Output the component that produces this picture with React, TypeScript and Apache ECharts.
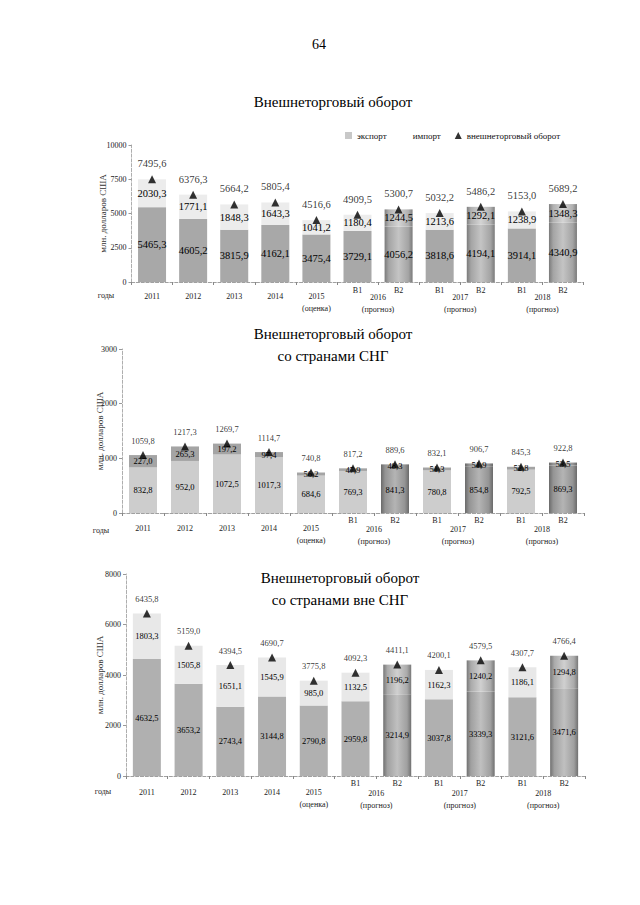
import React, { useEffect, useRef } from "react";
import * as echarts from "echarts";

const categories = ["2011", "2012", "2013", "2014", "2015", "2016 B1", "2016 B2", "2017 B1", "2017 B2", "2018 B1", "2018 B2"];
const yearLabels = ["2011", "2012", "2013", "2014", "2015\n(оценка)", "", "", "", "", "", ""];
const variantLabels = ["", "", "", "", "", "B1", "B2", "B1", "B2", "B1", "B2"];
const forecastPositions = [5.5, 7.5, 9.5];
const forecastYears = ["2016", "2017", "2018"];
const variantB2 = [false, false, false, false, false, false, true, false, true, false, true];

// Chart 1: total
const exportTotal = [5465.3, 4605.2, 3815.9, 4162.1, 3475.4, 3729.1, 4056.2, 3818.6, 4194.1, 3914.1, 4340.9];
const importTotal = [2030.3, 1771.1, 1848.3, 1643.3, 1041.2, 1180.4, 1244.5, 1213.6, 1292.1, 1238.9, 1348.3];
const turnoverTotal = [7495.6, 6376.3, 5664.2, 5805.4, 4516.6, 4909.5, 5300.7, 5032.2, 5486.2, 5153.0, 5689.2];

// Chart 2: CIS
const exportCIS = [832.8, 952.0, 1072.5, 1017.3, 684.6, 769.3, 841.3, 780.8, 854.8, 792.5, 869.3];
const importCIS = [227.0, 265.3, 197.2, 97.4, 56.2, 47.9, 48.3, 51.3, 51.9, 52.8, 53.5];
const turnoverCIS = [1059.8, 1217.3, 1269.7, 1114.7, 740.8, 817.2, 889.6, 832.1, 906.7, 845.3, 922.8];

// Chart 3: non-CIS
const exportNonCIS = [4632.5, 3653.2, 2743.4, 3144.8, 2790.8, 2959.8, 3214.9, 3037.8, 3339.3, 3121.6, 3471.6];
const importNonCIS = [1803.3, 1505.8, 1651.1, 1545.9, 985.0, 1132.5, 1196.2, 1162.3, 1240.2, 1186.1, 1294.8];
const turnoverNonCIS = [6435.8, 5159.0, 4394.5, 4690.7, 3775.8, 4092.3, 4411.1, 4200.1, 4579.5, 4307.7, 4766.4];

const yMaxes = [10000, 3000, 8000];
const yIntervals = [2500, 1000, 2000];

const SERIF = "'Liberation Serif', 'DejaVu Serif', serif";
const fmt = (v: number) => v.toFixed(1).replace(".", ",");

const grad = (edge: string, mid: string, center: string) => ({
  type: "linear", x: 0, y: 0, x2: 1, y2: 0,
  colorStops: [
    { offset: 0, color: edge },
    { offset: 0.15, color: mid },
    { offset: 0.5, color: center },
    { offset: 0.85, color: mid },
    { offset: 1, color: edge },
  ],
});

export default function App() {
  const ref = useRef<HTMLDivElement>(null);
  useEffect(() => {
    if (!ref.current) return;
    const chart = echarts.init(ref.current, null, { renderer: "svg" });

    const panels = [
      { exp: exportTotal, imp: importTotal, tot: turnoverTotal, grid: { left: 131.5, right: 56.5, top: 145, bottom: 623 },
        expColor: "#a8a8a8", impColor: "#ececec", b2Exp: grad("#7a7a7a", "#a4a4a4", "#c4c4c4"), b2Imp: grad("#808080", "#b0b0b0", "#d4d4d4"),
        labelSize: 10.5, yearMargin: 8, variantMargin: 4, nameGap: 24 },
      { exp: exportCIS, imp: importCIS, tot: turnoverCIS, grid: { left: 122, right: 56, top: 349, bottom: 392 },
        expColor: "#cdcdcd", impColor: "#a4a4a4", b2Exp: grad("#6a6a6a", "#949494", "#b4b4b4"), b2Imp: grad("#6a6a6a", "#949494", "#b4b4b4"),
        labelSize: 8.5, yearMargin: 9, variantMargin: 3, nameGap: 18 },
      { exp: exportNonCIS, imp: importNonCIS, tot: turnoverNonCIS, grid: { left: 126, right: 55, top: 574, bottom: 129 },
        expColor: "#b0b0b0", impColor: "#e8e8e8", b2Exp: grad("#707070", "#a0a0a0", "#c0c0c0"), b2Imp: grad("#787878", "#aaaaaa", "#d0d0d0"),
        labelSize: 8.5, yearMargin: 10, variantMargin: 3, nameGap: 22 },
    ];

    const grids: any[] = [];
    const xAxes: any[] = [];
    const yAxes: any[] = [];
    const series: any[] = [];

    panels.forEach((p, k) => {
      grids.push(p.grid);
      const labelFont = { fontFamily: SERIF, fontSize: 8, color: "#222" };
      xAxes.push({
        type: "category", gridIndex: k, data: categories, position: "bottom",
        axisLine: { show: true, onZero: false, lineStyle: { color: "#888", type: "dashed", width: 0.8 } },
        axisTick: { show: true, alignWithLabel: false, length: 3, lineStyle: { color: "#888" } },
        axisLabel: { ...labelFont, interval: 0, margin: p.yearMargin, lineHeight: 12,
          formatter: (_v: string, i: number) => yearLabels[i] },
      });
      xAxes.push({
        type: "category", gridIndex: k, data: categories, position: "bottom",
        axisLine: { show: false, onZero: false }, axisTick: { show: false },
        axisLabel: { ...labelFont, interval: 0, margin: p.variantMargin,
          formatter: (_v: string, i: number) => variantLabels[i] },
      });
      xAxes.push({
        type: "value", gridIndex: k, min: -0.5, max: 10.5, position: "bottom",
        axisLine: { show: false, onZero: false }, axisTick: { show: false }, splitLine: { show: false },
        axisLabel: { ...labelFont, margin: p.yearMargin + 1, lineHeight: 12,
          customValues: forecastPositions,
          formatter: (v: number) => {
            const idx = forecastPositions.indexOf(v);
            return idx >= 0 ? forecastYears[idx] + "\n(прогноз)" : "";
          } },
      });
      yAxes.push({
        type: "value", gridIndex: k, min: 0, max: yMaxes[k], interval: yIntervals[k], position: "left",
        name: "млн. долларов США", nameLocation: "middle", nameGap: p.nameGap, nameRotate: 90,
        nameMoveOverlap: false,
        nameTextStyle: { fontFamily: SERIF, fontSize: 9, color: "#333" },
        axisLine: { show: true, onZero: false, lineStyle: { color: "#999", type: "dashed", width: 0.8 } },
        axisTick: { show: true, length: 3, lineStyle: { color: "#999" } },
        splitLine: { show: false },
        axisLabel: { fontFamily: SERIF, fontSize: 8, color: "#222", margin: 5, formatter: (v: number) => String(v) },
      });

      const stack = "s" + k;
      const dataLabel = { show: true, fontFamily: SERIF, fontSize: p.labelSize, color: "#000",
        formatter: (pp: any) => fmt(pp.value) };
      series.push({
        name: "экспорт", type: "bar", xAxisIndex: 3 * k, yAxisIndex: k, stack, barWidth: 28,
        data: p.exp.map((v, i) => ({ value: v, itemStyle: { color: variantB2[i] ? p.b2Exp : p.expColor } })),
        label: { ...dataLabel, position: "inside" },
      });
      series.push({
        name: "импорт", type: "bar", xAxisIndex: 3 * k, yAxisIndex: k, stack, barWidth: 28,
        data: p.imp.map((v, i) => ({ value: v, itemStyle: { color: variantB2[i] ? p.b2Imp : p.impColor } })),
        label: { ...dataLabel, position: "inside" },
      });
      series.push({
        name: "внешнеторговый оборот", type: "scatter", xAxisIndex: 3 * k, yAxisIndex: k,
        symbol: "triangle", symbolSize: 8, itemStyle: { color: "#000" },
        data: p.tot,
        label: { ...dataLabel, position: "top", distance: 6 },
        z: 5,
      });
    });

    const titleText = (x: number, y: number, text: string) => ({
      type: "text", x, y,
      style: { text, fontFamily: SERIF, fontSize: 15, fill: "#000", textAlign: "center", textVerticalAlign: "middle" },
    });
    const smallText = (x: number, y: number, text: string) => ({
      type: "text", x, y,
      style: { text, fontFamily: SERIF, fontSize: 8, fill: "#222", textAlign: "center", textVerticalAlign: "middle" },
    });

    chart.setOption({
      animation: false,
      backgroundColor: "#fff",
      grid: grids,
      xAxis: xAxes,
      yAxis: yAxes,
      series,
      legend: {
        left: 340, top: 126, itemGap: 14, itemWidth: 7, itemHeight: 7,
        data: [
          { name: "экспорт", icon: "rect", itemStyle: { color: "#c8c8c8" } },
          { name: "импорт", icon: "rect", itemStyle: { color: "#ffffff" } },
          { name: "внешнеторговый оборот", icon: "triangle" },
        ],
        textStyle: { fontFamily: SERIF, fontSize: 9, color: "#111" },
        selectedMode: false,
      },
      graphic: [
        { type: "text", x: 319, y: 44, style: { text: "64", fontFamily: SERIF, fontSize: 14, fill: "#000", textAlign: "center", textVerticalAlign: "middle" } },
        titleText(333, 102, "Внешнеторговый оборот"),
        titleText(333, 334, "Внешнеторговый оборот"),
        titleText(333, 356, "со странами СНГ"),
        titleText(340, 578, "Внешнеторговый оборот"),
        titleText(340, 600, "со странами вне СНГ"),
        smallText(106, 295, "годы"),
        smallText(101, 530, "годы"),
        smallText(103, 791, "годы"),
      ],
    });
    return () => chart.dispose();
  }, []);
  return <div ref={ref} style={{ position: "absolute", left: 0, top: 0, width: 640, height: 905 }} />;
}
